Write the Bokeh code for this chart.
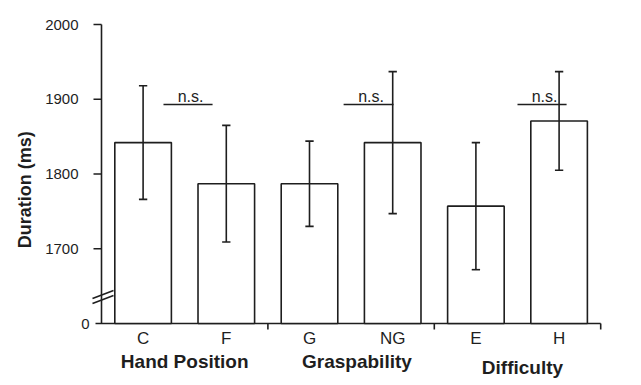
import math
from bokeh.plotting import figure
from bokeh.models import Range1d
from bokeh.embed import file_html
from bokeh.resources import INLINE
from bokeh.core.properties import value

# ---- data ----
categories = ["C", "F", "G", "NG", "E", "H"]
means = [1842, 1787, 1787, 1842, 1757, 1871]
errors = [76, 78, 57, 95, 85, 66]
groups = ["Hand Position", "Graspability", "Difficulty"]
group_centers = [0.5, 2.57, 4.56]
group_bounds = [1.5, 3.5, 5.5]
y_ticks = [1700, 1800, 1900, 2000]
zero_label = "0"
axis_zero = 1600          # display position of the broken-axis "0"
ns_start = [0.245, 2.41, 4.5]
ns_end = [0.835, 3.01, 5.09]
ns_level = 1893

# ---- style ----
FONT = "Liberation Sans"
INK = "#1e1e1e"
LW = 1.6
X0 = -0.5                 # category-axis origin (where the value axis stands)
XU = 83.2                 # px per category
YU = 0.7475               # px per value unit

xs = list(range(len(categories)))
lo = [m - e for m, e in zip(means, errors)]
hi = [m + e for m, e in zip(means, errors)]

W, H = 641, 385
p = figure(width=W, height=H,
           x_range=Range1d(X0 - 101 / XU, X0 + (W - 101) / XU),
           y_range=Range1d(axis_zero - (H - 323) / YU, axis_zero + 323 / YU),
           x_axis_location=None, y_axis_location=None,
           output_backend="svg", toolbar_location=None,
           min_border=0)
p.outline_line_color = None
p.xgrid.visible = False
p.ygrid.visible = False
p.background_fill_color = "white"
p.border_fill_color = "white"

def px_x(n):
    return n / XU

def px_y(n):
    return n / YU

# value axis: line, ticks, labels, break
p.segment(x0=[X0], y0=[axis_zero], x1=[X0], y1=[max(y_ticks)], line_color=INK, line_width=LW)
p.segment(x0=[X0 - px_x(8)] * len(y_ticks), y0=y_ticks, x1=[X0] * len(y_ticks), y1=y_ticks,
          line_color=INK, line_width=LW)
p.text(x=[X0 - px_x(23)] * len(y_ticks), y=y_ticks, text=[str(t) for t in y_ticks],
       text_align="right", text_baseline="middle", text_font=value(FONT),
       text_font_size="15px", text_color=INK)
p.text(x=[X0 - px_x(12)], y=[axis_zero], text=[zero_label],
       text_align="right", text_baseline="middle", text_font=value(FONT),
       text_font_size="15px", text_color=INK)
p.segment(x0=[X0 - px_x(9)] * 2, y0=[axis_zero + px_y(25), axis_zero + px_y(20)],
          x1=[X0 + px_x(12)] * 2, y1=[axis_zero + px_y(33), axis_zero + px_y(28)],
          line_color=INK, line_width=LW)

# category axis: line, group separators, labels
p.segment(x0=[X0 - px_x(6)], y0=[axis_zero], x1=[max(group_bounds)], y1=[axis_zero],
          line_color=INK, line_width=LW)
p.segment(x0=group_bounds, y0=[axis_zero] * 3, x1=group_bounds,
          y1=[axis_zero - px_y(6)] * 3, line_color=INK, line_width=LW)
p.text(x=xs, y=[axis_zero - px_y(15)] * len(xs), text=categories,
       text_align="center", text_baseline="middle", text_font=value(FONT),
       text_font_size="17px", text_color=INK)
group_mid = [axis_zero - px_y(38), axis_zero - px_y(38), axis_zero - px_y(44)]
p.text(x=group_centers, y=group_mid, text=groups, text_align="center",
       text_baseline="middle", text_font=value(FONT), text_font_size="19px",
       text_font_style="bold", text_color=INK)

# value-axis title
p.text(x=[X0 - px_x(77)], y=[1779], text=["Duration (ms)"], angle=math.pi / 2,
       text_align="center", text_baseline="middle", text_font=value(FONT),
       text_font_size="18px", text_font_style="bold", text_color=INK)

# bars
p.vbar(x=xs, top=means, bottom=axis_zero, width=0.68, fill_color="white",
       line_color=INK, line_width=LW)
# error bars
p.segment(x0=xs, y0=lo, x1=xs, y1=hi, line_color=INK, line_width=LW)
p.segment(x0=[x - 0.05 for x in xs], y0=hi, x1=[x + 0.05 for x in xs], y1=hi,
          line_color=INK, line_width=LW)
p.segment(x0=[x - 0.05 for x in xs], y0=lo, x1=[x + 0.05 for x in xs], y1=lo,
          line_color=INK, line_width=LW)

# n.s. annotations
p.segment(x0=ns_start, y0=[ns_level] * 3, x1=ns_end, y1=[ns_level] * 3,
          line_color=INK, line_width=LW)
p.text(x=[(a + b) / 2 + 0.03 for a, b in zip(ns_start, ns_end)],
       y=[ns_level + px_y(8)] * 3, text=["n.s."] * 3, text_align="center",
       text_baseline="middle", text_font=value(FONT), text_font_size="16px",
       text_color=INK)

open("out.html", "w").write(file_html(p, INLINE))
